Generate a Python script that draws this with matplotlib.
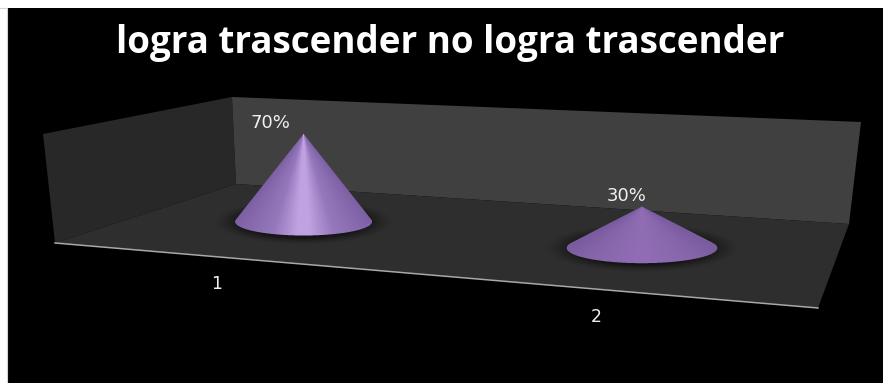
import numpy as np
import matplotlib
matplotlib.use("Agg")
import matplotlib.pyplot as plt
from matplotlib.colors import LinearSegmentedColormap, to_rgb
from matplotlib.patches import Polygon, Rectangle

title = "logra trascender no logra trascender"
categories = ["1", "2"]
values = [70, 30]
value_labels = ["70%", "30%"]
highlight_colors = ["#c0a2e2", "#8f6cb3"]
shoulder_colors = ["#9577bb", "#8a68ae"]
edge_colors = ["#7d60a3", "#7a5b9e"]

W, H = 883, 383
fig = plt.figure(figsize=(W / 100, H / 100), dpi=100, facecolor="white")
ax = fig.add_axes([0, 0, 1, 1])
ax.set_xlim(0, W)
ax.set_ylim(H, 0)
ax.axis("off")

ax.add_patch(Rectangle((7, 8), W - 7, H - 8, fc="black", ec="none", zorder=0))
ax.plot([0, 7, 7], [8, 8, H], color="#d4d4d4", lw=0.8, zorder=0.5)

# chart box in perspective
left_wall = [(43, 134), (232, 97), (236, 184), (55, 243)]
back_wall = [(232, 97), (861, 122), (849, 224), (236, 184)]
floor = [(55, 243), (236, 184), (849, 224), (818, 308)]
ax.add_patch(Polygon(left_wall, fc="#282828", ec="none", zorder=1))
ax.add_patch(Polygon(back_wall, fc="#404040", ec="none", zorder=1))
ax.add_patch(Polygon(floor, fc="#2e2e2e", ec="none", zorder=1))
ax.plot([55, 818], [243, 308], color="#a8a8a8", lw=1.1, zorder=2)


def base_point(i):
    """category position on the floor, with its perspective scale"""
    return 303.6 + 338.4 * i, 221.7 + 26.3 * i, 1.0 + 0.1 * i


px_per_unit = 1.257
half_width = 68.5
half_depth = 13.8
SS = 4


def draw_cone(i, value):
    cx, cy, s = base_point(i)
    a, b, h = half_width * s, half_depth * s, value * px_per_unit * s
    apex = cy - h
    x0, x1 = int(cx - a - 30), int(cx + a + 31)
    y0, y1 = int(apex - 2), int(cy + b + 16)
    nx, ny = x1 - x0, y1 - y0

    # soft shadow on the floor
    xc = x0 + (np.arange(nx) + 0.5)
    yc = y0 + (np.arange(ny) + 0.5)
    X, Y = np.meshgrid(xc, yc)
    r = np.sqrt(((X - cx) / (a + 21)) ** 2 + ((Y - cy) / (b + 9)) ** 2)
    alpha = np.clip((1.0 - r) / 0.3, 0, 1) ** 1.3 * 0.9
    shadow = np.zeros((ny, nx, 4))
    shadow[..., :3] = to_rgb("#131313")
    shadow[..., 3] = alpha
    ax.imshow(shadow, extent=(x0, x1, y1, y0), interpolation="bilinear",
              aspect="auto", zorder=3)

    # silhouette coverage, supersampled: tangent lines plus the base ellipse
    xs = x0 + (np.arange(nx * SS) + 0.5) / SS
    ys = y0 + (np.arange(ny * SS) + 0.5) / SS
    XS, YS = np.meshgrid(xs, ys)
    y_tan = cy - b ** 2 / h
    x_tan = a * np.sqrt(1 - (b / h) ** 2)
    t = (YS - apex) / (y_tan - apex)
    in_tri = (t >= 0) & (YS <= y_tan) & (np.abs(XS - cx) <= x_tan * t)
    in_ell = ((XS - cx) / a) ** 2 + ((YS - cy) / b) ** 2 <= 1
    cover = (in_tri | in_ell).reshape(ny, SS, nx, SS).mean(axis=(1, 3))

    # shading follows the rays from the apex
    cmap = LinearSegmentedColormap.from_list(
        "cone", [(0.0, edge_colors[i]), (0.3, shoulder_colors[i]),
                 (0.46, highlight_colors[i]), (0.54, highlight_colors[i]),
                 (0.7, shoulder_colors[i]), (1.0, edge_colors[i])])
    tt = np.maximum((Y - apex) / h, 0.02)
    u = np.clip((X - cx) / (a * tt), -1, 1)
    rgba = cmap((u + 1) / 2)
    rgba[..., 3] = cover
    ax.imshow(rgba, extent=(x0, x1, y1, y0), interpolation="nearest",
              aspect="auto", zorder=4)
    return apex


text_font = ["DejaVu Sans"]
for i, (cat, val, lab) in enumerate(zip(categories, values, value_labels)):
    apex = draw_cone(i, val)
    cx, cy, s = base_point(i)
    ax.text(cx - 33.5 + 18.5 * i, apex - 11, lab, color="#f0f0f0", fontsize=13,
            family=text_font, ha="center", va="center", zorder=5)
    ax.text(cx - 86.6 + 40.5 * i, cy + 62.3 + 6.7 * i, cat, color="#f0f0f0",
            fontsize=12.5, family=text_font, ha="center", va="center", zorder=5)

ax.text(450, 53, title, color="white", fontsize=26.5, family=["Open Sans", "DejaVu Sans"],
        fontweight="bold", ha="center", va="baseline", zorder=5)
ax.set_xlim(0, W)
ax.set_ylim(H, 0)
fig.savefig("out.png", dpi=100, facecolor=fig.get_facecolor())
